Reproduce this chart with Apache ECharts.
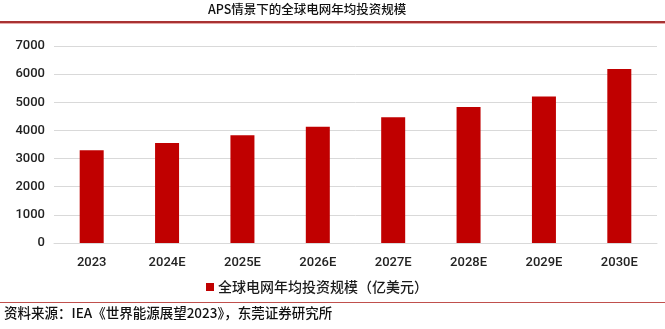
<!DOCTYPE html>
<html>
<head>
<meta charset="utf-8">
<script src="https://cdn.jsdelivr.net/npm/echarts@6/dist/echarts.min.js"></script>
<style>
  html, body { margin: 0; padding: 0; background: #fff; }
  #chart { width: 665px; height: 329px; }
</style>
</head>
<body>
<div id="chart"></div>
<script>
// Annual global grid investment under the APS scenario (100 million USD)
const titleText = 'APS情景下的全球电网年均投资规模';
const sourceText = '资料来源：IEA《世界能源展望2023》，东莞证券研究所';
const seriesName = '全球电网年均投资规模（亿美元）';
const categories = ['2023', '2024E', '2025E', '2026E', '2027E', '2028E', '2029E', '2030E'];
const investment = [3300, 3550, 3830, 4130, 4470, 4830, 5210, 6180];
const yTicks = { min: 0, max: 7000, interval: 1000 };

const cjk = '"Noto Sans CJK SC", "Noto Sans", sans-serif';
const latin = 'Roboto, "Liberation Sans", Arial, sans-serif';

const chart = echarts.init(document.getElementById('chart'), null, { renderer: 'canvas' });
chart.setOption({
  animation: false,
  backgroundColor: '#ffffff',
  grid: { left: 54, right: 8, top: 46, bottom: 86, containLabel: false },
  graphic: [
    {
      type: 'text', left: 208, top: 3,
      style: { text: titleText, font: '500 12.5px ' + cjk, fill: '#111' }
    },
    {
      type: 'rect', shape: { x: 0, y: 21, width: 665, height: 2 },
      style: { fill: '#a83232' }
    },
    {
      type: 'rect', shape: { x: 0, y: 23, width: 665, height: 1 },
      style: { fill: '#e7a9a9' }
    },
    {
      type: 'rect', shape: { x: 0, y: 302, width: 665, height: 1 },
      style: { fill: '#c0504d' }
    },
    {
      type: 'text', left: 4, top: 306,
      style: { text: sourceText, font: '500 13.5px ' + cjk, fill: '#111' }
    }
  ],
  legend: {
    data: [seriesName],
    left: 201, top: 275,
    icon: 'rect', itemWidth: 8, itemHeight: 8, itemGap: 6,
    textStyle: { fontFamily: cjk, fontSize: 14, fontWeight: 500, color: '#1a1a1a', padding: [0, 0, 0, -1] }
  },
  xAxis: {
    type: 'category',
    data: categories,
    axisLine: { show: true, lineStyle: { color: '#d9d9d9', width: 1 } },
    axisTick: { show: false },
    axisLabel: { color: '#222', fontFamily: latin, fontWeight: 500, fontSize: 13, margin: 13 }
  },
  yAxis: {
    type: 'value',
    min: yTicks.min, max: yTicks.max, interval: yTicks.interval,
    axisLine: { show: false },
    axisTick: { show: false },
    splitLine: { lineStyle: { color: '#d9d9d9', width: 1 } },
    axisLabel: {
      color: '#222', fontFamily: latin, fontWeight: 500, fontSize: 13, margin: 9,
      formatter: (v) => String(v)
    }
  },
  series: [{
    name: seriesName,
    type: 'bar',
    data: investment,
    barWidth: 24,
    itemStyle: { color: '#c00000' }
  }]
});
</script>
</body>
</html>
